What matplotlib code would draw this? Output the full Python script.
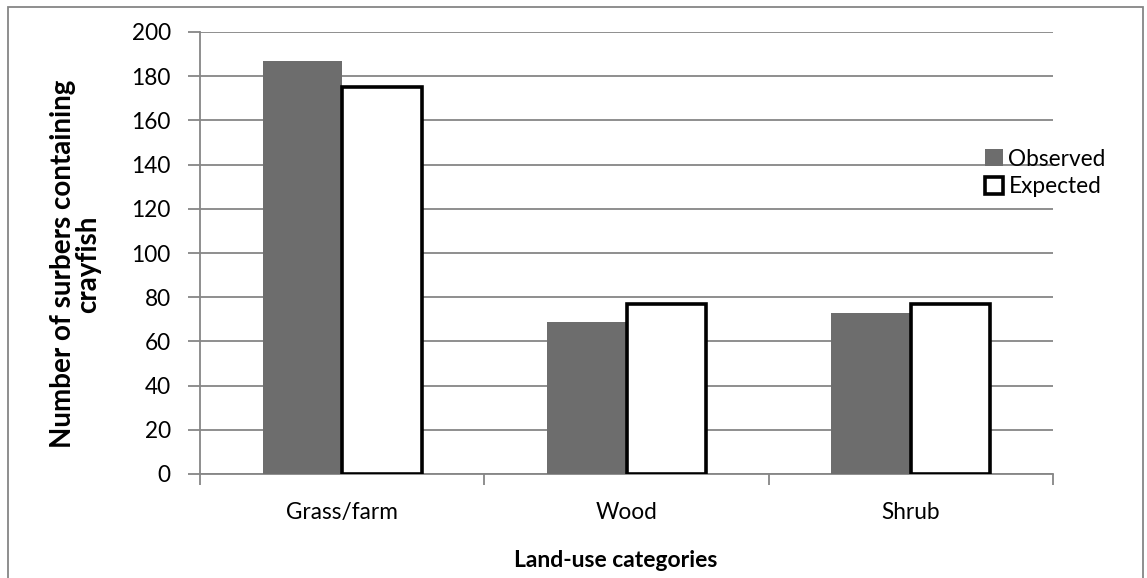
import numpy as np
import matplotlib.pyplot as plt
from matplotlib.patches import Rectangle

plt.rcParams['font.family'] = ['Lato', 'DejaVu Sans']

categories = ['Grass/farm', 'Wood', 'Shrub']
observed = [187, 69, 73]
expected = [175, 77, 77]
yticks = [0, 20, 40, 60, 80, 100, 120, 140, 160, 180, 200]

grid_col = '#868686'

fig = plt.figure(figsize=(11.47, 5.78), dpi=100)
ax = fig.add_axes([200 / 1147, 1 - 474 / 578, 853 / 1147, 442 / 578])

x = np.arange(len(categories))
w = 0.28
ax.bar(x - w / 2, observed, w, color='#6d6d6d', label='Observed', zorder=3)
ax.bar(x + w / 2, expected, w, color='white', edgecolor='black', linewidth=2.6,
       label='Expected', zorder=3)

ax.set_xlim(-0.5, 2.5)
ax.set_ylim(0, 200)
ax.set_yticks(yticks)
ax.yaxis.grid(True, color=grid_col, linewidth=1.3, zorder=0)
ax.set_axisbelow(True)

ax.set_xticks(x)
ax.set_xticklabels(categories)
ax.set_xticks([-0.5, 0.5, 1.5, 2.5], minor=True)
ax.tick_params(axis='x', which='major', length=0, pad=20, labelsize=16.3)
ax.tick_params(axis='x', which='minor', length=8, color=grid_col, width=1.3)
ax.tick_params(axis='y', length=9, color=grid_col, width=1.3, pad=12, labelsize=16.3)

for s in ['top', 'right']:
    ax.spines[s].set_visible(False)
for s in ['left', 'bottom']:
    ax.spines[s].set_color(grid_col)
    ax.spines[s].set_linewidth(1.3)

ax.set_ylabel('Number of surbers containing\ncrayfish', fontsize=20, fontweight='bold',
              linespacing=0.95)
ax.yaxis.set_label_coords(-0.116, 0.475)
ax.set_xlabel('Land-use categories', fontsize=16.5, fontweight='bold')
ax.xaxis.set_label_coords(0.4877, -0.172)

leg = ax.legend(loc='center left', bbox_to_anchor=(0.896, 0.681), frameon=False,
                fontsize=16.3, handlelength=0.8, handleheight=0.8, handletextpad=0.25,
                labelspacing=0.3)

# outer chart border
fig.patches.append(Rectangle((8 / 1147, -0.05), 1135 / 1147, 1 - 7 / 578 + 0.05,
                             transform=fig.transFigure, fill=False,
                             edgecolor=grid_col, linewidth=1.3))

fig.savefig('out.png', dpi=100)
